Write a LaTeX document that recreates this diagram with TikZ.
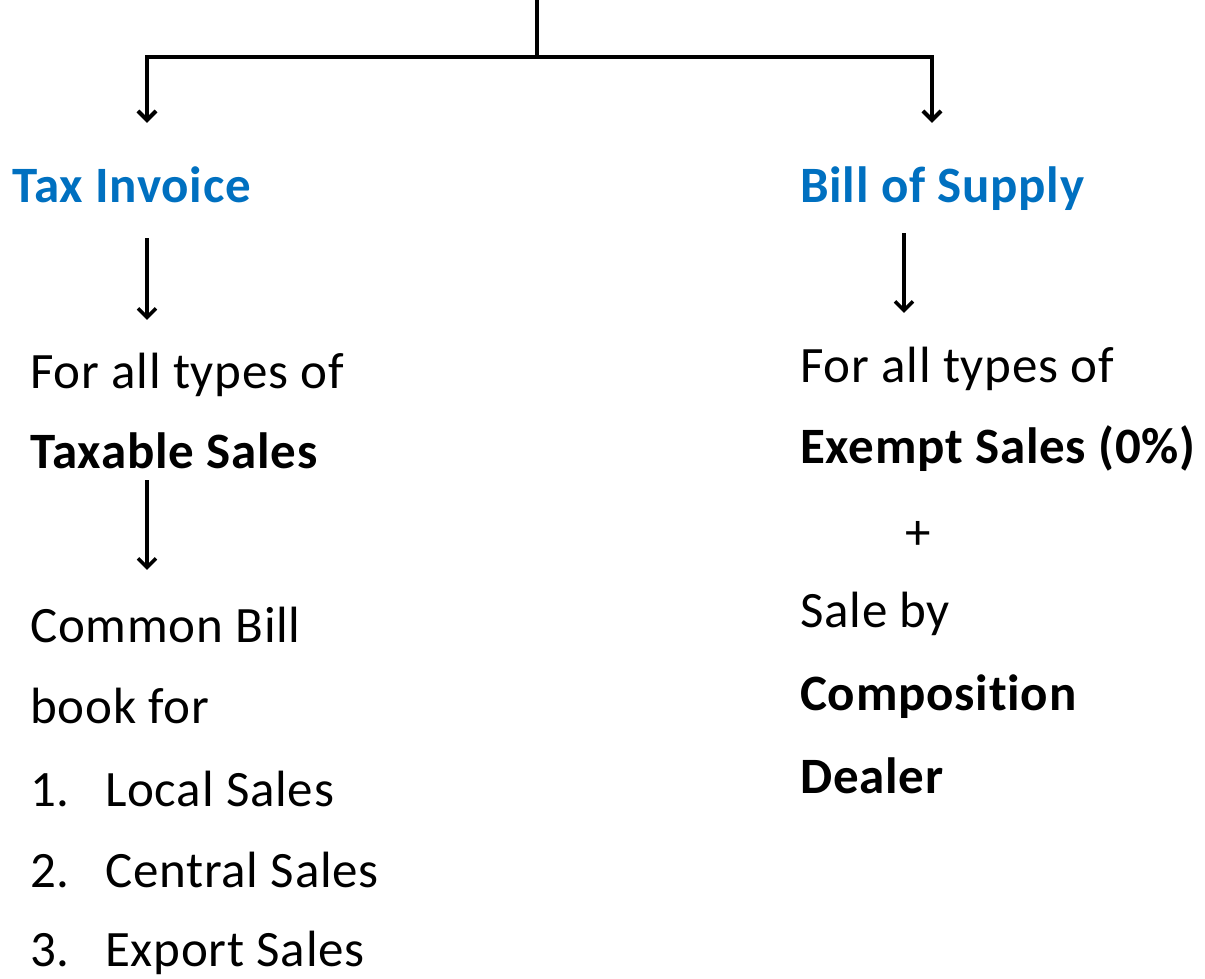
\documentclass[tikz,border=0pt]{standalone}
\usepackage{fontspec}
\setmainfont{Carlito}[Ligatures=NoCommon,LetterSpace=1.5]
\usetikzlibrary{arrows.meta}

\definecolor{headblue}{RGB}{0,112,192}

\begin{document}
\begin{tikzpicture}[x=1pt,y=-1pt,>={Straight Barb[length=9pt,width=18pt]},
    txt/.style={anchor=base west,inner sep=0pt,text height=36pt,text depth=10pt,
                font=\fontsize{51}{60}\selectfont},
    head/.style={txt,font=\fontsize{51}{60}\selectfont\bfseries,text=headblue},
    arr/.style={->,line width=3.5pt}]

    \useasboundingbox (0,0) rectangle (1205,979);

    % headings
    \node[head] (tax)  at (12,202)  {Tax Invoice};
    \node[head] (bill) at (800,202) {Bill of Supply};

    % left column
    \node[txt] (allL)    at (30,388) {For all types of};
    \node[txt] (taxable) at (30,468) {\bfseries Taxable Sales};
    \node[txt] (common)  at (30,642) {Common Bill};
    \node[txt] (book)    at (30,723) {book for};
    \node[txt] (local)   at (30,806) {\makebox[75pt][l]{1.}Local Sales};
    \node[txt] (central) at (30,887) {\makebox[75pt][l]{2.}Central Sales};
    \node[txt] (export)  at (30,966) {\makebox[75pt][l]{3.}Export Sales};

    % right column
    \node[txt] (allR)    at (800,382) {For all types of};
    \node[txt] (exempt)  at (800,463) {\bfseries Exempt Sales (0\%)};
    \node[txt,anchor=center,text height=,text depth=] (plus) at (918,535) {+};
    \node[txt] (saleby)  at (800,627) {Sale by};
    \node[txt] (compo)   at (800,710) {\bfseries Composition};
    \node[txt] (dealer)  at (800,793) {\bfseries Dealer};

    % fork at the top
    \coordinate (root) at (537,0);
    \coordinate (fork) at (537,57);
    \draw[line width=3.5pt] (root) -- (fork);
    \draw[arr,line width=4pt,shorten >=43pt] (fork) -| ([xshift=135pt]tax.north west);
    \draw[arr,line width=4pt,shorten >=43pt] (fork) -| ([xshift=132pt]bill.north west);

    % down the columns
    \draw[arr,shorten <=26pt,shorten >=32pt] ([xshift=135pt]tax.south west) -- ([xshift=117pt]allL.north west);
    \draw[arr,shorten <=2pt,shorten >=36pt] ([xshift=117pt]taxable.south west) -- ([xshift=117pt]common.north west);
    \draw[arr,shorten <=21pt,shorten >=33pt] ([xshift=104pt]bill.south west) -- ([xshift=104pt]allR.north west);

\end{tikzpicture}
\end{document}
